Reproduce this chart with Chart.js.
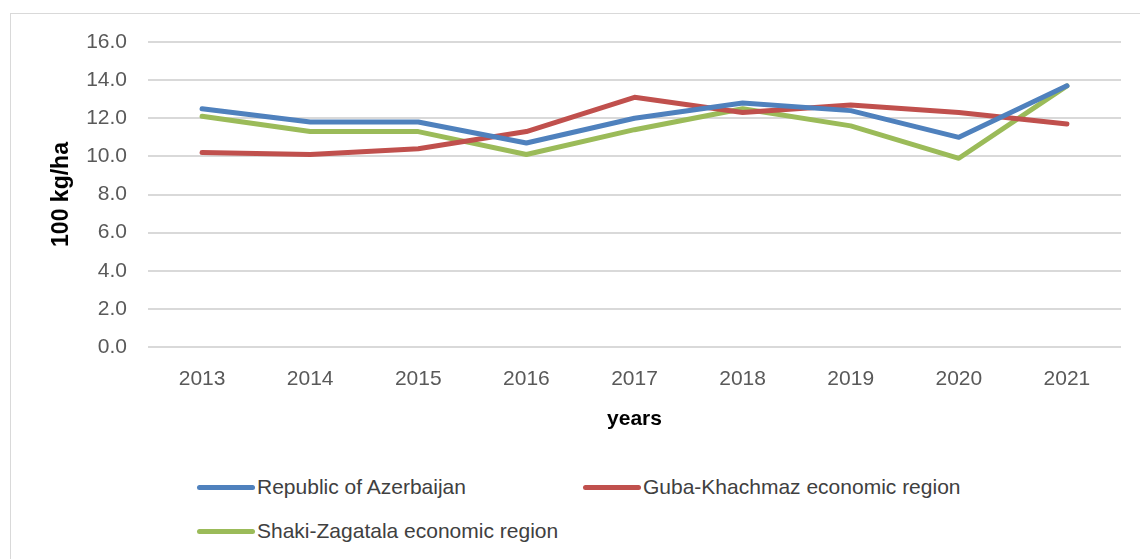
<!DOCTYPE html>
<html>
<head>
<meta charset="utf-8">
<script src="https://cdn.jsdelivr.net/npm/chart.js@4"></script>
<style>
  body { margin: 0; background: #fff; font-family: "Liberation Sans", Arial, sans-serif; }
  #wrap { position: relative; width: 1140px; height: 559px; overflow: hidden; }
  #frame { position: absolute; left: 10px; top: 13px; width: 1140px; height: 560px; border: 1px solid #d9d9d9; }
  #chart { position: absolute; left: 0; top: 0; }
  .leg { position: absolute; display: flex; align-items: center; font-size: 21px; color: #404040; }
  .leg span.sw { display: inline-block; width: 58px; height: 5px; border-radius: 3px; margin-right: 2px; }
</style>
</head>
<body>
<div id="wrap">
  <div id="frame"></div>
  <canvas id="chart" width="1140" height="440"></canvas>
  <div id="legend"></div>
</div>
<script>
const years = ["2013", "2014", "2015", "2016", "2017", "2018", "2019", "2020", "2021"];
const azerbaijan = [12.5, 11.8, 11.8, 10.7, 12.0, 12.8, 12.4, 11.0, 13.7];
const gubaKhachmaz = [10.2, 10.1, 10.4, 11.3, 13.1, 12.3, 12.7, 12.3, 11.7];
const shakiZagatala = [12.1, 11.3, 11.3, 10.1, 11.4, 12.5, 11.6, 9.9, 13.7];
const seriesNames = ["Republic of Azerbaijan", "Guba-Khachmaz economic region", "Shaki-Zagatala economic region"];
const seriesColors = ["#4f81bd", "#c0504d", "#9bbb59"];

const textColor = "#595959";
const font = "'Liberation Sans', Arial, sans-serif";

const datasets = [azerbaijan, gubaKhachmaz, shakiZagatala].map((data, i) => ({
    label: seriesNames[i],
    data,
    borderColor: seriesColors[i],
    backgroundColor: seriesColors[i],
    borderWidth: 5,
    pointRadius: 0,
    tension: 0,
    borderJoinStyle: "round",
    borderCapStyle: "round",
}));

new Chart(document.getElementById("chart"), {
    type: "line",
    data: { labels: years, datasets },
    options: {
        responsive: false,
        animation: false,
        layout: { padding: { top: 42, right: 19, left: 0, bottom: 0 } },
        plugins: { legend: { display: false }, tooltip: { enabled: false } },
        scales: {
            x: {
                offset: true,
                grid: { display: false },
                border: { display: false },
                ticks: { color: textColor, font: { family: font, size: 21 }, padding: 12 },
                title: {
                    display: true,
                    text: "years",
                    color: "#000",
                    font: { family: font, size: 21, weight: "bold" },
                    padding: { top: 0, bottom: 8 },
                },
                afterFit: (scale) => { scale.height = 93; },
            },
            y: {
                min: 0,
                max: 16,
                grid: { color: "#d9d9d9", lineWidth: 2, drawTicks: false },
                border: { display: false },
                ticks: {
                    stepSize: 2,
                    color: textColor,
                    font: { family: font, size: 21 },
                    padding: 21,
                    callback: (v) => v.toFixed(1),
                },
                title: {
                    display: true,
                    text: "100 kg/ha",
                    color: "#000",
                    font: { family: font, size: 23, weight: "bold" },
                    padding: { top: 48, bottom: 0 },
                },
                afterFit: (scale) => { scale.width = 148; },
            },
        },
    },
});

// legend laid out like the original: two columns, wrapped onto a second row
const legendPos = [[197, 488], [583, 488], [197, 532]];
const legendEl = document.getElementById("legend");
seriesNames.forEach((name, i) => {
    const item = document.createElement("div");
    item.className = "leg";
    item.style.left = legendPos[i][0] + "px";
    item.style.top = (legendPos[i][1] - 13) + "px";
    const sw = document.createElement("span");
    sw.className = "sw";
    sw.style.background = seriesColors[i];
    item.appendChild(sw);
    item.appendChild(document.createTextNode(name));
    legendEl.appendChild(item);
});
</script>
</body>
</html>
